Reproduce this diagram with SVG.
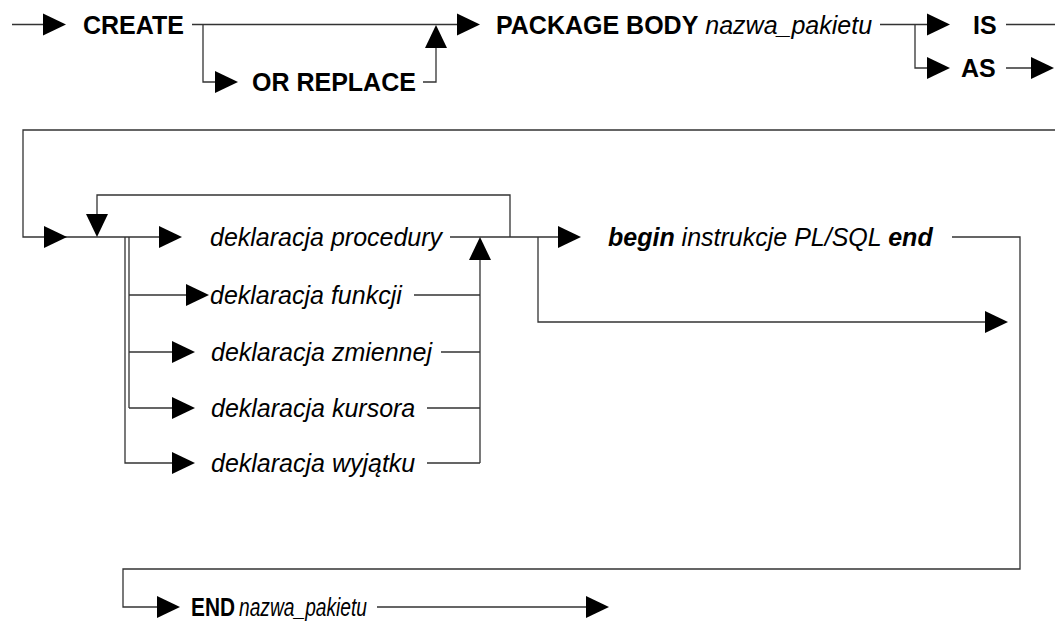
<svg xmlns="http://www.w3.org/2000/svg" width="1055" height="622" viewBox="0 0 1055 622">
<style>
.ln{fill:none;stroke:#333;stroke-width:1.3}
.t{font-family:"Liberation Sans",Arial,sans-serif;font-size:25px;fill:#000}
.b{font-weight:bold}
.i{font-style:italic}
.ah{fill:#000}
</style>
<defs>
<path id="ar" class="ah" d="M-23,-11 L0,0 L-23,11 Z"/>
</defs>
<rect width="1055" height="622" fill="#fff"/>
<g id="connectors">
<path class="ln" d="M12,24.5 H45 M192,24.5 H460 M203,24.5 V82 H216 M423,82 H436 V46"/>
<path class="ln" d="M880,24.5 H929 M915,24.5 V68 H929 M1006,24.5 H1055 M1006,68 H1034"/>
<path class="ln" d="M1055,130 H23 V237 H160 M125,237 V463 H174 M129,237 V408 M129,295 H188 M129,352 H174 M129,408 H174"/>
<path class="ln" d="M97,216 V195 H510 V237 M450,237 H559 M538,237 V322 H987"/>
<path class="ln" d="M414,295 H480 M441,352 H480 M427,408 H480 M427,463 H480 M480,463 V259"/>
<path class="ln" d="M952,237 H1020 V569 H123 V607 H158 M377,607 H587"/>
<use href="#ar" transform="translate(66,24.5)"/>
<use href="#ar" transform="translate(238,82)"/>
<use href="#ar" transform="translate(436,25) rotate(-90)"/>
<use href="#ar" transform="translate(480,24.5)"/>
<use href="#ar" transform="translate(950,24.5)"/>
<use href="#ar" transform="translate(950,68)"/>
<use href="#ar" transform="translate(1054,68)"/>
<use href="#ar" transform="translate(67,237)"/>
<use href="#ar" transform="translate(97,237) rotate(90)"/>
<use href="#ar" transform="translate(182,237)"/>
<use href="#ar" transform="translate(209,295)"/>
<use href="#ar" transform="translate(195,352)"/>
<use href="#ar" transform="translate(195,408)"/>
<use href="#ar" transform="translate(195,463)"/>
<use href="#ar" transform="translate(480,237) rotate(-90)"/>
<use href="#ar" transform="translate(581,237)"/>
<use href="#ar" transform="translate(1008,322)"/>
<use href="#ar" transform="translate(180,607)"/>
<use href="#ar" transform="translate(609,607)"/>
</g>
<g id="create"><text class="t b" x="83" y="33.5">CREATE</text></g>
<g id="or_replace"><text class="t b" x="252" y="91">OR REPLACE</text></g>
<g id="package_body"><text class="t" x="496" y="33.5"><tspan class="b">PACKAGE BODY</tspan> <tspan class="i">nazwa_pakietu</tspan></text></g>
<g id="is"><text class="t b" x="973" y="33.5">IS</text></g>
<g id="as"><text class="t b" x="961" y="77">AS</text></g>
<g id="decl_proc"><text class="t i" x="210" y="246">deklaracja procedury</text></g>
<g id="decl_func"><text class="t i" x="210" y="304">deklaracja funkcji</text></g>
<g id="decl_var"><text class="t i" x="211" y="361">deklaracja zmiennej</text></g>
<g id="decl_cursor"><text class="t i" x="211" y="417">deklaracja kursora</text></g>
<g id="decl_exc"><text class="t i" x="211" y="472">deklaracja wyjątku</text></g>
<g id="body"><text class="t i" x="608" y="246"><tspan class="b">begin</tspan> instrukcje PL/SQL <tspan class="b">end</tspan></text></g>
<g id="end"><text class="t b" x="191" y="616" textLength="44" lengthAdjust="spacingAndGlyphs">END</text><text class="t i" x="239" y="616" textLength="128" lengthAdjust="spacingAndGlyphs">nazwa_pakietu</text></g>
</svg>
